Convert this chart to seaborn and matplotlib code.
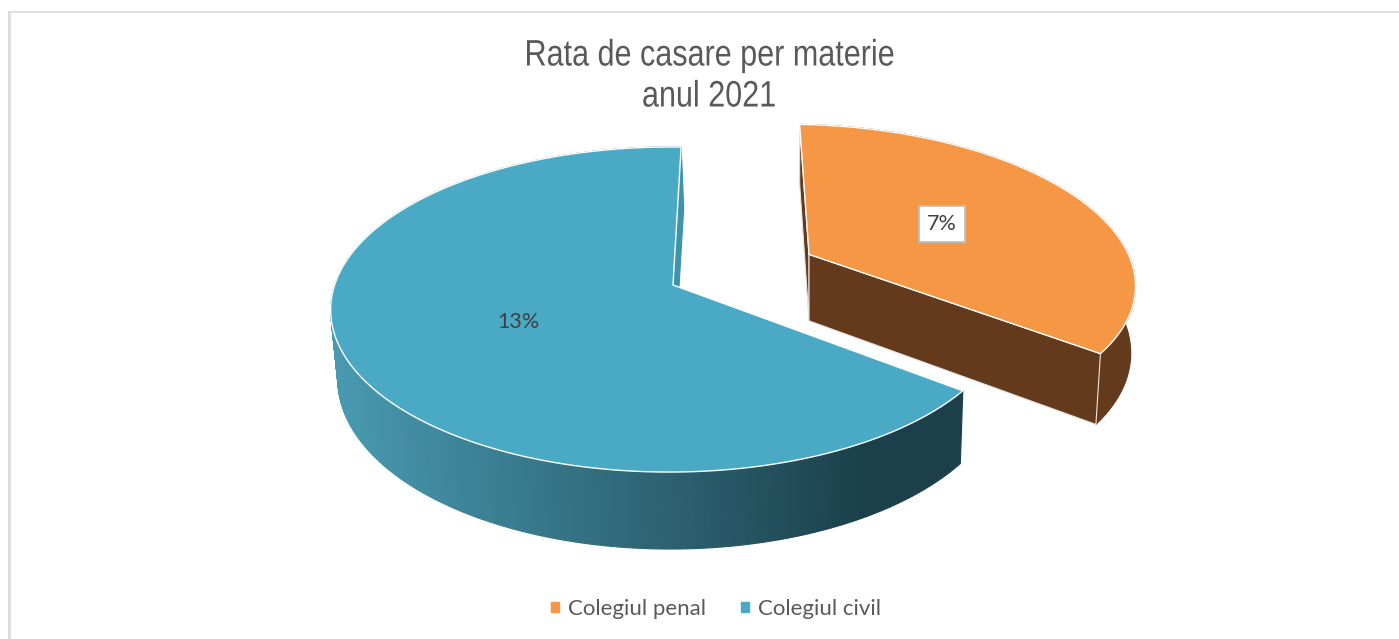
import numpy as np
import matplotlib
matplotlib.use("Agg")
import matplotlib.pyplot as plt
from matplotlib.patches import Patch, Polygon
from matplotlib.patheffects import AbstractPathEffect
from matplotlib.transforms import Affine2D
import seaborn as sns

categories = ["Colegiul penal", "Colegiul civil"]
values = [7, 13]
title_lines = ["Rata de casare per materie", "anul 2021"]

TOP_COLORS = ["#F59745", "#4AA9C4"]
BROWN = "#633A1C"
WALL_LEFT, WALL_RIGHT = "#4899B0", "#1B404B"
W, H = 1399, 639

# projectia discului in pixeli (perspectiva)
CX, CY = 673, 285
A, B, K, L = 335, 158.8, 0.151, 0.01
DEPTH, M, SHIFT = 69.3, 0.015, 2


def proj(x, y, z=0):
    w = 1 + K * y + L * x + M * z
    return CX + (A * x + SHIFT * z) / w, CY + (-B * y + DEPTH * z) / w


def arc(wedge, z=0, n=300):
    t = np.radians(np.linspace(wedge.theta1, wedge.theta2, n))
    cx, cy = wedge.center
    return proj(cx + np.cos(t), cy + np.sin(t), z)


def face(ax, pts, color, edge=None, lw=1.0, z=1):
    ax.add_patch(Polygon(np.array(pts), closed=True, facecolor=color,
                         edgecolor=edge if edge else color, lw=lw if edge else 0.8, zorder=z))


class Narrow(AbstractPathEffect):
    # titlul din original e cu font ingust
    def __init__(self, s):
        super().__init__()
        self.s = s

    def draw_path(self, renderer, gc, tpath, affine, rgbFace=None):
        v = tpath.vertices[:, 0]
        c = (v.min() + v.max()) / 2
        tr = Affine2D().translate(-c, 0).scale(self.s, 1).translate(c, 0) + affine
        renderer.draw_path(gc, tpath, tr, rgbFace)


sns.set_theme(style="white")
plt.rcParams["font.family"] = ["Lato", "DejaVu Sans"]

fig = plt.figure(figsize=(W / 100, H / 100), dpi=100)
ax = fig.add_axes([0, 0, 1, 1])
wedges, _ = ax.pie(values, explode=[0.465, 0], startangle=88.4, counterclock=False, colors=TOP_COLORS)
for wd in wedges:
    wd.set_visible(False)
ax.set_aspect("auto")
ax.set_xlim(0, W)
ax.set_ylim(H, 0)
ax.axis("off")

penal, civil = wedges

# peretele civil, cu degrade
xt, yt = arc(civil)
xb, yb = arc(civil, 1)
grad = sns.blend_palette([WALL_LEFT, WALL_RIGHT], 100)
for i in range(len(xt) - 1):
    t = np.clip((xb[i] - 340) / (860 - 340), 0, 1)
    face(ax, [(xt[i], yt[i]), (xt[i + 1], yt[i + 1]), (xb[i + 1], yb[i + 1]), (xb[i], yb[i])],
         grad[int(t * 99)], z=1)

# fata interioara civil (fasia subtire de sus)
apex_t = proj(*civil.center)
apex_b = proj(*civil.center, 1)
face(ax, [(xt[0], yt[0]), (xb[0] + 1, yb[0]), apex_b, apex_t], "#3F93AB", z=1)

# peretii penal
xt, yt = arc(penal)
xb, yb = arc(penal, 1)
apex_t = proj(*penal.center)
apex_b = proj(*penal.center, 1)
face(ax, list(zip(xt, yt)) + list(zip(xb[::-1], yb[::-1])), BROWN, z=2)
face(ax, [(xt[-1], yt[-1]), (xb[-1], yb[-1]), apex_b, apex_t], BROWN, edge="#E8E4E0", lw=0.8, z=3)
face(ax, [(xt[0], yt[0]), (xb[0], yb[0]), apex_b, apex_t], BROWN, edge="#E8E4E0", lw=0.8, z=3)

# fetele de sus
for wd, col in zip(wedges, TOP_COLORS):
    xs, ys = arc(wd)
    apex = proj(*wd.center)
    face(ax, list(zip(xs, ys)) + [apex], col, edge="white", lw=1.0, z=5)

# etichete
ax.text(942, 224, f"{values[0]}%", ha="center", va="center", fontsize=15.5, color="#404040", zorder=6,
        bbox=dict(boxstyle="square,pad=0.36", fc="white", ec="#BFBFBF", lw=1.3))
ax.text(518, 322, f"{values[1]}%", ha="center", va="center", fontsize=15.5, color="#404040", zorder=6)

# titlu
for line, y in zip(title_lines, [56, 97]):
    ax.text(709, y, line, ha="center", va="center", fontsize=26.5, color="#595959",
            family=["Liberation Sans"], zorder=6, path_effects=[Narrow(0.83)])

# chenar
ax.plot([9, 9], [H, 12], color="#DDDDDD", lw=2, solid_capstyle="butt", zorder=0)
ax.plot([8, W], [12, 12], color="#DDDDDD", lw=1.3, solid_capstyle="butt", zorder=0)

handles = [Patch(color=c) for c in TOP_COLORS]
ax.legend(handles, categories, ncol=2, frameon=False, loc="center",
          bbox_to_anchor=(716 / W, 1 - 609 / H), fontsize=16, labelcolor="#595959",
          handlelength=0.35, handleheight=0.35, handletextpad=0.4, columnspacing=1.6)

fig.savefig("out.png", dpi=100, facecolor="white")
